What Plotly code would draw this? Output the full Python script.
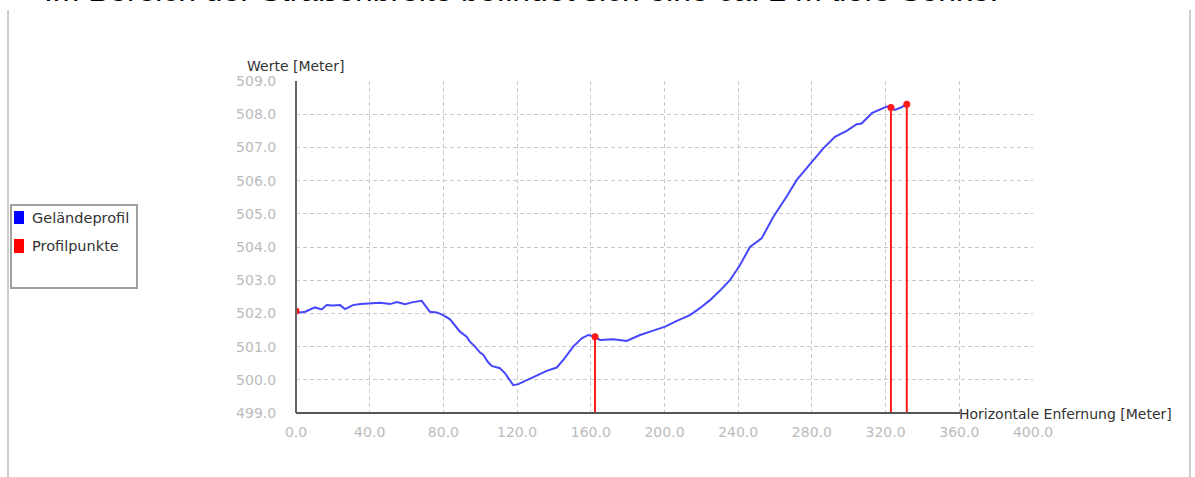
import plotly.graph_objects as go

# ---------------- data ----------------
profile_dist = [0, 2.2, 5, 8, 10.3, 13.9, 16.7, 20, 23.9, 26.6, 30.9, 35, 39.1, 45.6, 51, 54.7,
                59.2, 63.5, 68.2, 72.7, 76.4, 79.9, 83.6, 87.2, 89, 92.6, 94.4, 97.2, 99.9,
                101.7, 104, 106.2, 110.7, 113.4, 116, 117.9, 120.7, 125.2, 130.6, 136.1, 141.5,
                145.1, 150.5, 155.1, 158.6, 162.3, 165, 172.2, 179.5, 186.7, 193.9, 200.3, 207,
                213.8, 219, 224.7, 230, 235.5, 241, 246.4, 252.7, 259.1, 266.3, 271.8, 276,
                280.8, 286.2, 292.5, 298.9, 304.3, 307, 312.5, 317, 320.6, 322.9, 325, 328.6,
                331.5]
profile_elev = [502.05, 502.03, 502.05, 502.12, 502.18, 502.12, 502.25, 502.24, 502.25, 502.13,
                502.25, 502.28, 502.30, 502.32, 502.28, 502.34, 502.28, 502.34, 502.38, 502.05,
                502.03, 501.95, 501.82, 501.55, 501.45, 501.30, 501.15, 501.00, 500.82, 500.75,
                500.55, 500.42, 500.35, 500.20, 499.98, 499.84, 499.87, 499.99, 500.14, 500.27,
                500.37, 500.60, 501.00, 501.25, 501.35, 501.30, 501.20, 501.22, 501.17, 501.35,
                501.48, 501.60, 501.78, 501.95, 502.15, 502.40, 502.68, 503.00, 503.46, 504.00,
                504.26, 504.91, 505.52, 506.02, 506.30, 506.62, 506.97, 507.32, 507.50, 507.70,
                507.72, 508.03, 508.13, 508.23, 508.20, 508.13, 508.21, 508.30]

points_dist = [0, 162.3, 322.9, 331.5]
points_elev = [502.07, 501.30, 508.20, 508.30]

x_ticks = [0, 40, 80, 120, 160, 200, 240, 280, 320, 360, 400]
y_ticks = [499, 500, 501, 502, 503, 504, 505, 506, 507, 508, 509]

legend_names = ["Geländeprofil", "Profilpunkte"]
x_title = "Horizontale Enfernung [Meter]"
y_title = "Werte [Meter]"
page_text = "Im Bereich der Straßenbreite befindet sich eine ca. 2 m tiefe Senke."

# ---------------- layout helpers ----------------
W, H = 1195, 477
L, R, T, B = 296, 1033, 81, 413  # plot area in pixels


def px(x):
    return (x - L) / (R - L)


def py(y):
    return (B - y) / (B - T)


FONT = "DejaVu Sans"
BLUE = "rgb(70,70,255)"
RED = "#ff1a1a"

fig = go.Figure()

fig.add_trace(go.Scatter(
    x=profile_dist, y=profile_elev, mode="lines",
    line=dict(color=BLUE, width=2), showlegend=False, hoverinfo="skip"))

y_min = y_ticks[0]
fig.add_trace(go.Scatter(
    x=points_dist, y=points_elev, mode="markers",
    marker=dict(color=RED, size=7),
    error_y=dict(type="data", symmetric=False, array=[0] * len(points_elev),
                 arrayminus=[v - y_min for v in points_elev],
                 color=RED, thickness=2, width=0),
    showlegend=False, hoverinfo="skip"))

shapes = []
# axis lines
shapes.append(dict(type="line", xref="paper", yref="paper", x0=0, x1=px(960), y0=0, y1=0,
                   line=dict(color="#555555", width=2), layer="above"))
shapes.append(dict(type="line", xref="paper", yref="paper", x0=0, x1=0, y0=0, y1=1,
                   line=dict(color="#666666", width=2), layer="above"))
# page borders
for xb in (8, 1190):
    shapes.append(dict(type="line", xref="paper", yref="paper", x0=px(xb), x1=px(xb),
                       y0=py(10), y1=py(480), line=dict(color="#9a9a9a", width=1)))
# legend box
shapes.append(dict(type="rect", xref="paper", yref="paper", x0=px(11), x1=px(137),
                   y0=py(288), y1=py(205), line=dict(color="#a0a0a0", width=2),
                   fillcolor="white"))
legend_colors = ["#0000ff", "#ff0000"]
legend_rows = [(211, 224), (239, 253)]
for (y0, y1), c in zip(legend_rows, legend_colors):
    shapes.append(dict(type="rect", xref="paper", yref="paper", x0=px(14), x1=px(24),
                       y0=py(y1), y1=py(y0), line=dict(width=0), fillcolor=c))

annotations = []
for (y0, y1), name in zip(legend_rows, legend_names):
    annotations.append(dict(text=name, xref="paper", yref="paper", x=px(30), y=py((y0 + y1) / 2),
                            xanchor="left", yanchor="middle", showarrow=False,
                            font=dict(family=FONT, size=14.5, color="#333333")))
annotations.append(dict(text=y_title, xref="paper", yref="paper", x=px(245), y=py(66),
                        xanchor="left", yanchor="middle", showarrow=False,
                        font=dict(family=FONT, size=14, color="#333333")))
annotations.append(dict(text=x_title, xref="paper", yref="paper", x=px(957), y=py(414),
                        xanchor="left", yanchor="middle", showarrow=False,
                        font=dict(family=FONT, size=14, color="#333333")))
annotations.append(dict(text=page_text, xref="paper", yref="paper", x=px(42), y=py(10),
                        xanchor="left", yanchor="bottom", showarrow=False,
                        font=dict(family="Liberation Sans", size=31.8, color="#000000")))

fig.update_layout(
    width=W, height=H, autosize=False,
    margin=dict(l=L, r=W - R, t=T, b=H - B, pad=0),
    paper_bgcolor="white", plot_bgcolor="white",
    shapes=shapes, annotations=annotations,
    showlegend=False,
    xaxis=dict(range=[x_ticks[0], x_ticks[-1]], tickvals=x_ticks, tickformat=".1f",
               showgrid=True, gridcolor="#c8c8c8", griddash="4px,3px", gridwidth=1,
               zeroline=False, showline=False,
               ticks="outside", ticklen=6, tickcolor="rgba(0,0,0,0)",
               tickfont=dict(family=FONT, size=14, color="#bbbbbb")),
    yaxis=dict(range=[y_ticks[0], y_ticks[-1]], tickvals=y_ticks, tickformat=".1f",
               showgrid=True, gridcolor="#c8c8c8", griddash="4px,3px", gridwidth=1,
               zeroline=False, showline=False,
               ticks="outside", ticklen=16, tickcolor="rgba(0,0,0,0)",
               tickfont=dict(family=FONT, size=14, color="#bbbbbb")),
)

fig.write_html("out.html", config={"displayModeBar": False},
               post_script="document.body.style.margin='0';")
